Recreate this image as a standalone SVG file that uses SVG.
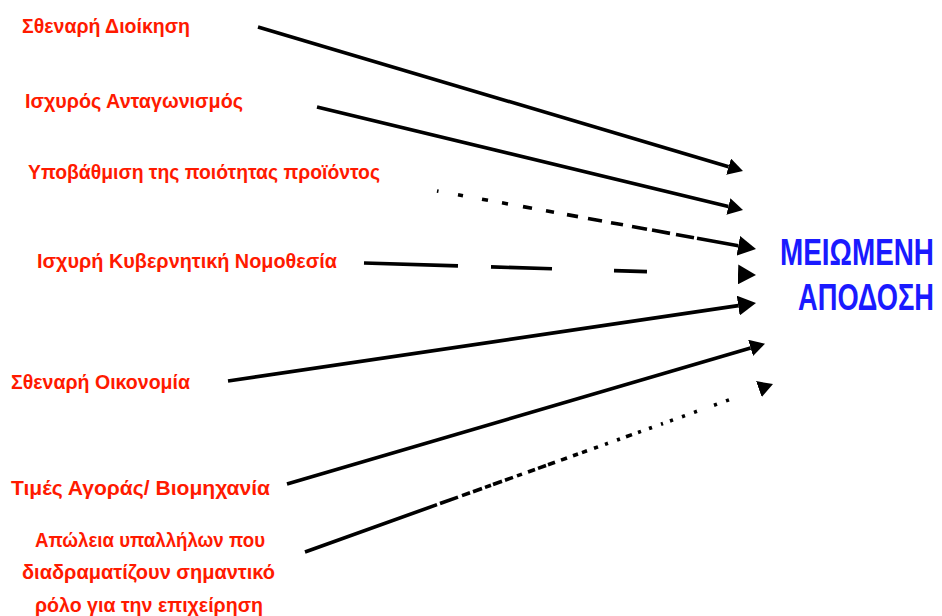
<svg xmlns="http://www.w3.org/2000/svg" width="942" height="616" viewBox="0 0 942 616">
<style>
.lbl{font-family:"Liberation Sans","DejaVu Sans",sans-serif;font-size:20px;font-weight:bold;fill:#ff1a00}
.ttl{font-family:"Liberation Sans","DejaVu Sans",sans-serif;font-size:26px;font-weight:bold;fill:#1a1aff}
.ln{fill:none;stroke:#000;stroke-width:3.6}
</style>
<defs>
<marker id="ah" viewBox="0 0 18 20" markerWidth="18" markerHeight="20" refX="0" refY="10" orient="auto" markerUnits="userSpaceOnUse"><path d="M0,0 L18,10 L0,20 z" fill="#000"/></marker>
<marker id="ahs" viewBox="0 0 15 17" markerWidth="15" markerHeight="17" refX="0" refY="8.5" orient="auto" markerUnits="userSpaceOnUse"><path d="M0,0 L15,8.5 L0,17 z" fill="#000"/></marker>
</defs>
<rect width="942" height="616" fill="#fff"/>
<g id="n1"><text class="lbl" x="22" y="33" textLength="168" lengthAdjust="spacingAndGlyphs">Σθεναρή Διοίκηση</text></g>
<g id="n2"><text class="lbl" x="25" y="108" textLength="218" lengthAdjust="spacingAndGlyphs">Ισχυρός Ανταγωνισμός</text></g>
<g id="n3"><text class="lbl" x="28" y="179" textLength="352" lengthAdjust="spacingAndGlyphs">Υποβάθμιση της ποιότητας προϊόντος</text></g>
<g id="n4"><text class="lbl" x="37" y="268" textLength="300" lengthAdjust="spacingAndGlyphs">Ισχυρή Κυβερνητική Νομοθεσία</text></g>
<g id="n5"><text class="lbl" x="11" y="389" textLength="179" lengthAdjust="spacingAndGlyphs">Σθεναρή Οικονομία</text></g>
<g id="n6"><text class="lbl" x="11" y="495" textLength="259" lengthAdjust="spacingAndGlyphs">Τιμές Αγοράς/ Βιομηχανία</text></g>
<g id="n7">
<text class="lbl" x="35" y="547" textLength="230" lengthAdjust="spacingAndGlyphs">Απώλεια υπαλλήλων που</text>
<text class="lbl" x="22" y="579" textLength="253" lengthAdjust="spacingAndGlyphs">διαδραματίζουν σημαντικό</text>
<text class="lbl" x="35" y="612" textLength="228" lengthAdjust="spacingAndGlyphs">ρόλο για την επιχείρηση</text>
</g>
<g id="target">
<text class="ttl" transform="translate(780,265) scale(1,1.45)" x="0" y="0" textLength="154" lengthAdjust="spacingAndGlyphs">ΜΕΙΩΜΕΝΗ</text>
<text class="ttl" transform="translate(798,310) scale(1,1.45)" x="0" y="0" textLength="136" lengthAdjust="spacingAndGlyphs">ΑΠΟΔΟΣΗ</text>
</g>
<g id="connectors">
<path class="ln" d="M258,27 L728.6,166.7" marker-end="url(#ahs)"/>
<path class="ln" d="M317,107 L728.4,206.5" marker-end="url(#ahs)"/>
<path class="ln" d="M437,191 L738.3,245.8" pathLength="301.3" stroke-dasharray="1.5 19.5 5 19 6 14 6 15 9 14 8 13 11 10 14 9 12 9 15 5 18 6 18 3 100" marker-end="url(#ah)"/>
<path class="ln" d="M364,263 L738,274.4" pathLength="374" stroke-dasharray="94 33 61 62 33 200" marker-end="url(#ah)"/>
<path class="ln" d="M228,381 L738.2,305.6" marker-end="url(#ah)"/>
<path class="ln" d="M287,484 L750.6,347.9" marker-end="url(#ahs)"/>
<path class="ln" d="M305,552 L758.9,389.1" pathLength="453.9" stroke-dasharray="132 3 18 4 8 3 9 3 6 2 9 3 8 4 5 6 7 3 8 2 7 6 6 6 5 4 5 7 4 7 3 9 3 6 6 6 3 8 3 9 2 7 3 9 3 9 3 17 3 9 3 200" marker-end="url(#ahs)"/>
</g>
</svg>
